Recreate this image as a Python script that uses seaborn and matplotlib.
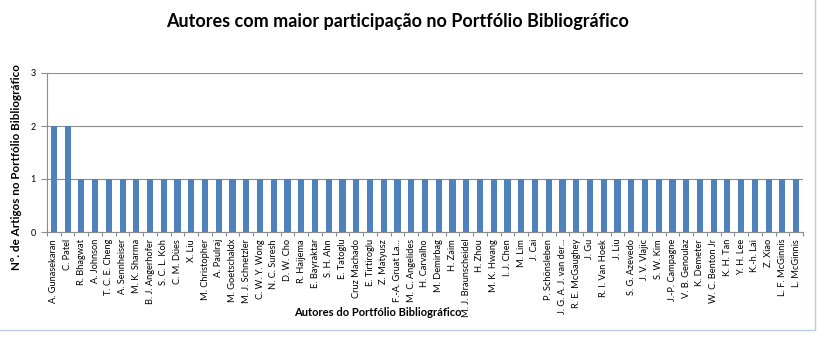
import matplotlib
matplotlib.use("Agg")
import matplotlib.pyplot as plt
import seaborn as sns
import pandas as pd
import numpy as np

authors = [
    "A. Gunasekaran", "C. Patel", "R. Bhagwat", "A. Johnson", "T. C. E. Cheng",
    "A. Sennheiser", "M. K. Sharma", "B. J. Angerhofer", "S. C. L. Koh", "C. M. Dües",
    "X. Liu", "M. Christopher", "A. Paulraj", "M. Goetschaldx", "M. J. Schnetzler",
    "C. W. Y. Wong", "N. C. Suresh", "D. W. Cho", "R. Haijema", "E. Bayraktar",
    "S. H. Ahn", "E. Tatoglu", "Cruz Machado", "E. Tirtiroglu", "Z. Matyusz",
    "F.-A. Gruat La...", "M. C. Angelides", "H. Carvalho", "M. Demirbag", "H. Zaim",
    "M. J. Braunscheidel", "H. Zhou", "M. K. Hwang", "I. J. Chen", "M. Lim",
    "J. Cai", "P. Schönsleben", "J. G. A. J. van der...", "R. E. McGaughey", "J. Gu",
    "R. I. Van Hoek", "J. Liu", "S. G. Azevedo", "J. V. Vlajic", "S. W. Kim",
    "J.-P. Campagne", "V. B. Genoulaz", "K. Demeter", "W. C. Benton Jr", "K. H. Tan",
    "Y. H. Lee", "K.-h. Lai", "Z. Xiao", "L. F. McGinnis", "L. McGinnis",
]
articles = [2, 2] + [1] * 53

yticks = [0, 1, 2, 3]
title = "Autores com maior participação no Portfólio Bibliográfico"
xlabel = "Autores do Portfólio Bibliográfico"
ylabel = "Nº. de Artigos no Portfólio Bibliográfico"

df = pd.DataFrame({"autor": authors, "artigos": articles})

sns.set_style("white")
plt.rcParams["font.family"] = ["Lato", "DejaVu Sans"]
plt.rcParams["text.color"] = "black"
plt.rcParams["xtick.color"] = "black"
plt.rcParams["ytick.color"] = "black"
plt.rcParams["axes.labelcolor"] = "black"

fig = plt.figure(figsize=(8.29, 3.37), dpi=100)
ax = fig.add_axes([47 / 829, 1 - 232 / 337, (803 - 47) / 829, (232 - 73) / 337])

sns.barplot(data=df, x="autor", y="artigos", color="#4F81BD", width=0.45,
            ax=ax, saturation=1, edgecolor="none")

ax.set_ylim(0, 3)
ax.set_xlim(-0.5, len(authors) - 0.5)
ax.set_yticks(yticks)
ax.set_yticklabels([str(t) for t in yticks], fontsize=6.5)
ax.yaxis.grid(True, color="#8c8c8c", linewidth=0.8)
ax.set_axisbelow(True)

ax.set_xticks(range(len(authors)))
ax.set_xticklabels(authors, rotation=90, fontsize=6.7)
ax.set_xticks(np.arange(-0.5, len(authors), 1), minor=True)
ax.tick_params(axis="x", which="minor", bottom=True, length=3, color="#8c8c8c", width=0.8, direction="out")
ax.tick_params(axis="x", which="major", bottom=False, length=0, pad=5)
ax.tick_params(axis="y", which="major", left=True, length=4, color="#8c8c8c", labelcolor="black",
               width=0.8, direction="out", pad=4)

for side in ["top", "right"]:
    ax.spines[side].set_visible(False)
for side in ["left", "bottom"]:
    ax.spines[side].set_color("#8c8c8c")
    ax.spines[side].set_linewidth(0.8)

ax.set_xlabel("")
ax.set_ylabel(ylabel, fontsize=8.4, fontweight="bold")
ax.yaxis.set_label_coords(-25 / 756, 0.41)

fig.text(0.48, 1 - 22 / 337, title, ha="center", va="center", fontsize=13, fontweight="bold")
fig.text(378 / 829, 1 - 312 / 337, xlabel, ha="center", va="center", fontsize=8, fontweight="bold")

# chart frame lines (right and bottom)
fig.add_artist(plt.Line2D([815 / 829, 815 / 829], [1 - 330 / 337, 1.0], color="#b9cde5", linewidth=1))
fig.add_artist(plt.Line2D([0, 815 / 829], [1 - 330 / 337, 1 - 330 / 337], color="#b9cde5", linewidth=1))

fig.savefig("out.png", dpi=100, facecolor="white")
